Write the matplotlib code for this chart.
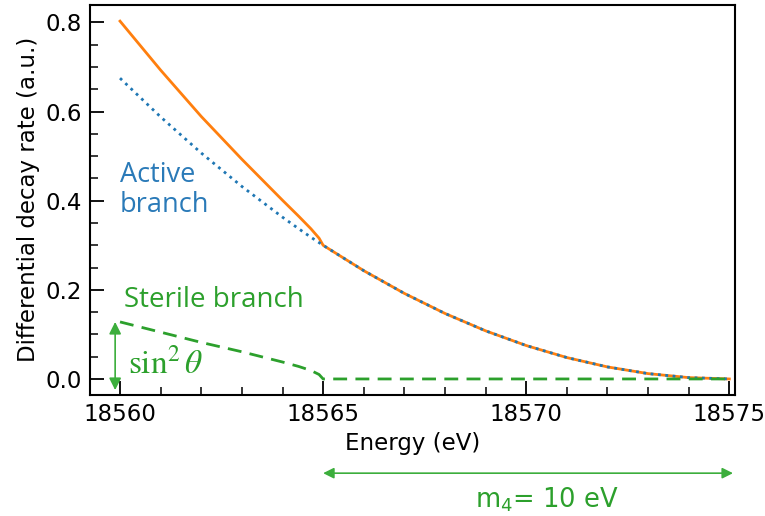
import numpy as np
import matplotlib.pyplot as plt
from matplotlib.ticker import MultipleLocator

plt.rcParams['mathtext.fontset'] = 'stix'

# energy grid (eV) and curves
energy = [18560, 18561, 18562, 18563, 18564, 18564.4, 18564.7, 18564.9, 18565,
          18566, 18567, 18568, 18569, 18570, 18571, 18572, 18573, 18574, 18575]
active = [0.675, 0.588, 0.507, 0.432, 0.363, 0.337, 0.318, 0.306, 0.300,
          0.243, 0.192, 0.147, 0.108, 0.075, 0.048, 0.027, 0.012, 0.003, 0.0]
sterile = [0.128, 0.105, 0.082, 0.061, 0.038, 0.028, 0.019, 0.010, 0.0,
           0.0, 0.0, 0.0, 0.0, 0.0, 0.0, 0.0, 0.0, 0.0, 0.0]
total = [0.803, 0.693, 0.589, 0.493, 0.401, 0.365, 0.337, 0.316, 0.300,
         0.243, 0.192, 0.147, 0.108, 0.075, 0.048, 0.027, 0.012, 0.003, 0.0]

green = '#2ca02c'
arrow_green = '#3cae3c'

fig = plt.figure(figsize=(7.65, 5.16), dpi=100)
ax = fig.add_axes([0.1176, 0.2345, 0.8432, 0.7565])

ax.plot(energy, total, color='#ff7f0e', lw=2)
ax.plot(energy, active, color='#1f77b4', lw=2, ls=':')
ax.plot(energy, sterile, color=green, lw=2, ls=(0, (5, 3)))

ax.set_xlim(18559.26, 18575.14)
ax.set_ylim(-0.036, 0.84)
ax.xaxis.set_major_locator(MultipleLocator(5))
ax.xaxis.set_minor_locator(MultipleLocator(1))
ax.yaxis.set_major_locator(MultipleLocator(0.2))
ax.yaxis.set_minor_locator(MultipleLocator(0.05))
ax.ticklabel_format(axis='x', useOffset=False)
ax.tick_params(which='major', direction='in', length=10, width=1.3, labelsize=16.5, pad=6)
ax.tick_params(which='minor', direction='in', length=5.5, width=1.1)
for s in ax.spines.values():
    s.set_linewidth(1.5)

ax.set_xlabel('Energy (eV)', fontsize=16.5, labelpad=4)
ax.set_ylabel('Differential decay rate (a.u.)', fontsize=16.5)

# annotations
ax.text(18560, 0.425, 'Active\nbranch', color='#2a7ab8', fontsize=19.5,
        family='Open Sans', va='center', ha='left', linespacing=1.1)
ax.text(18560.1, 0.162, 'Sterile branch', color=green, fontsize=20,
        family='Open Sans', va='baseline', ha='left')
ax.text(18560.2, 0.013, r'$\sin^2\theta$', color=green, fontsize=24,
        va='baseline', ha='left')
ax.annotate('', xy=(18559.88, 0.128), xytext=(18559.88, -0.025),
            arrowprops=dict(arrowstyle='<|-|>', color=arrow_green, lw=1.2,
                            mutation_scale=18, shrinkA=0, shrinkB=0),
            annotation_clip=False)

# m4 arrow under the axis
ax.annotate('', xy=(18565, 0.083), xytext=(18575.09, 0.083),
            xycoords=('data', 'figure fraction'),
            textcoords=('data', 'figure fraction'),
            arrowprops=dict(arrowstyle='<|-|>', color=arrow_green, lw=1.2,
                            mutation_scale=16, shrinkA=0, shrinkB=0),
            annotation_clip=False)
ax.annotate('m$_4$= 10 eV', xy=(18570.5, 0.032), xycoords=('data', 'figure fraction'),
            color=green, fontsize=18.5, ha='center', va='center',
            math_fontfamily='dejavusans', annotation_clip=False)

fig.savefig('out.png', dpi=100)
